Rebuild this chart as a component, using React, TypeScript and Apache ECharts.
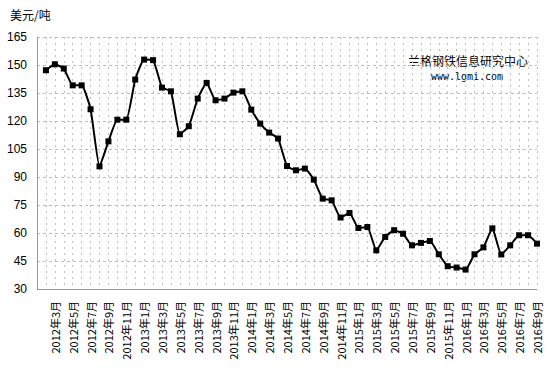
import React, { useEffect, useRef } from "react";
import * as echarts from "echarts";

const categories: string[] = [
  "2012年1月", "2012年2月", "2012年3月", "2012年4月", "2012年5月", "2012年6月", "2012年7月", "2012年8月", "2012年9月", "2012年10月", "2012年11月", "2012年12月",
  "2013年1月", "2013年2月", "2013年3月", "2013年4月", "2013年5月", "2013年6月", "2013年7月", "2013年8月", "2013年9月", "2013年10月", "2013年11月", "2013年12月",
  "2014年1月", "2014年2月", "2014年3月", "2014年4月", "2014年5月", "2014年6月", "2014年7月", "2014年8月", "2014年9月", "2014年10月", "2014年11月", "2014年12月",
  "2015年1月", "2015年2月", "2015年3月", "2015年4月", "2015年5月", "2015年6月", "2015年7月", "2015年8月", "2015年9月", "2015年10月", "2015年11月", "2015年12月",
  "2016年1月", "2016年2月", "2016年3月", "2016年4月", "2016年5月", "2016年6月", "2016年7月", "2016年8月", "2016年9月",
];

const prices: (number | null)[] = [
  null,
  147.2, 150.4, 148.1, 139.1, 139.1, 126.3, 95.7, 109.1, 120.7, 120.7,
  142.2, 152.9, 152.6, 137.9, 135.9, 112.9, 117.2, 132.0, 140.4, 131.1,
  132.0, 135.2, 135.9, 126.1, 118.6, 113.8, 110.6, 95.9, 93.6, 94.5,
  88.6, 78.4, 77.5, 68.3, 70.7, 62.7, 63.2, 50.7, 57.9, 61.5,
  59.6, 53.4, 54.7, 55.7, 48.6, 42.2, 41.5, 40.4, 48.6, 52.3,
  62.5, 48.5, 53.4, 58.8, 58.8, 54.3,
];

const yTicks = { min: 30, max: 165, interval: 15 };
const unitLabel = "美元/吨";
const watermarkName = "兰格钢铁信息研究中心";
const watermarkUrl = "www.lgmi.com";

export default function App() {
  const ref = useRef<HTMLDivElement>(null);
  useEffect(() => {
    if (!ref.current) return;
    const chart = echarts.init(ref.current, null, { renderer: "svg" });
    chart.setOption({
      animation: false,
      backgroundColor: "#ffffff",
      grid: { left: 37, right: 15, top: 37, bottom: 81 },
      graphic: [
        {
          type: "text",
          left: 10,
          top: 8,
          style: { text: unitLabel, fontSize: 12, fill: "#000", fontFamily: "Noto Sans CJK SC" },
        },
        {
          type: "text",
          x: 468,
          y: 60,
          style: {
            text: watermarkName,
            fontSize: 12,
            fill: "#000",
            align: "center",
            verticalAlign: "middle",
            fontFamily: "Noto Sans CJK SC",
          },
        },
        {
          type: "text",
          x: 467,
          y: 76,
          style: {
            text: watermarkUrl,
            fontSize: 10,
            fill: "#000",
            align: "center",
            verticalAlign: "middle",
            fontFamily: "DejaVu Sans Mono",
          },
        },
      ],
      xAxis: {
        type: "category",
        data: categories,
        boundaryGap: false,
        axisLine: { lineStyle: { color: "#999", width: 1 } },
        axisTick: { show: false },
        splitLine: {
          show: true,
          interval: 0,
          lineStyle: { color: "#bdbdbd", type: [2, 4], width: 1 },
        },
        axisLabel: {
          interval: (index: number) => index > 0 && index % 2 === 0,
          rotate: 90,
          margin: 12,
          fontSize: 11,
          color: "#000",
          fontFamily: "Noto Sans CJK SC",
        },
      },
      yAxis: {
        type: "value",
        min: yTicks.min,
        max: yTicks.max,
        interval: yTicks.interval,
        axisLine: { show: true, lineStyle: { color: "#999", width: 1 } },
        axisTick: { show: false },
        axisLabel: { margin: 10, fontSize: 12, color: "#000", fontFamily: "Liberation Sans" },
        splitLine: { show: true, lineStyle: { color: "#bdbdbd", type: [3, 3], width: 1 } },
      },
      series: [
        {
          type: "line",
          data: prices,
          smooth: 0.15,
          symbol: "rect",
          symbolSize: 6,
          showAllSymbol: true,
          connectNulls: false,
          lineStyle: { color: "#000", width: 2 },
          itemStyle: { color: "#000" },
        },
      ],
    });
    return () => chart.dispose();
  }, []);
  return <div ref={ref} style={{ width: 552, height: 370, position: "absolute", left: 0, top: 0 }} />;
}
